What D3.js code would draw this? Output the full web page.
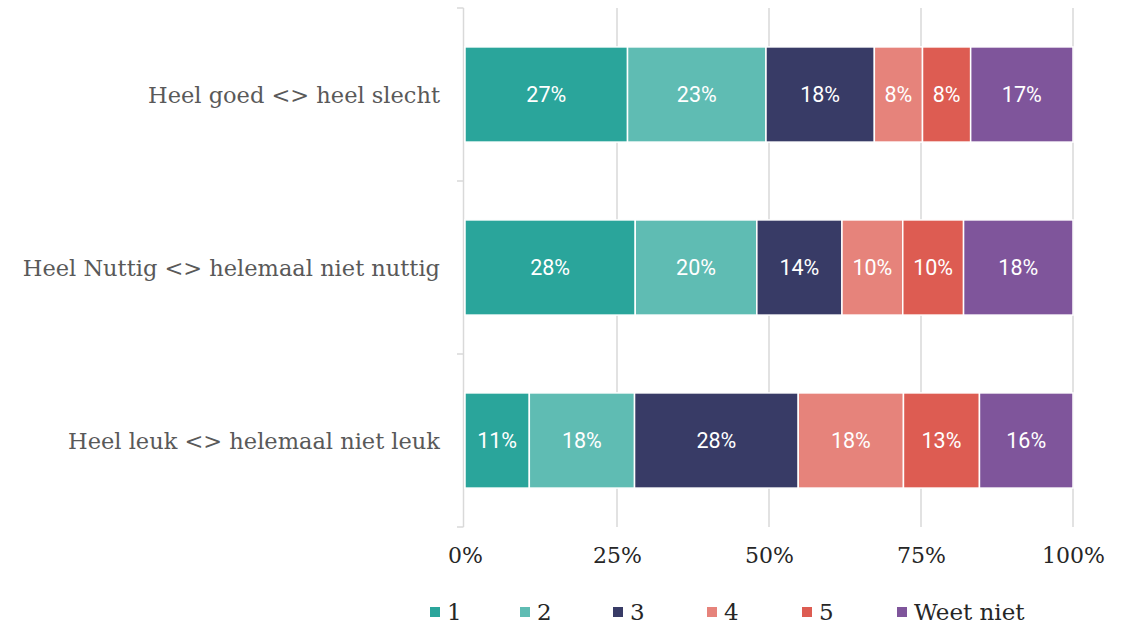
<!DOCTYPE html>
<html><head><meta charset="utf-8">
<script src="https://cdn.jsdelivr.net/npm/d3@7"></script>
<style>body{margin:0;background:#fff}svg{display:block}</style>
</head><body>
<svg id="c" width="1130" height="625"></svg>
<script>
const categories = ["Heel goed <> heel slecht", "Heel Nuttig <> helemaal niet nuttig", "Heel leuk <> helemaal niet leuk"];
const seriesNames = ["1", "2", "3", "4", "5", "Weet niet"];
const s1 = [27, 28, 11];
const s2 = [23, 20, 18];
const s3 = [18, 14, 28];
const s4 = [8, 10, 18];
const s5 = [8, 10, 13];
const sWeet = [17, 18, 16];
const colors = ["#2aa59b", "#5fbcb3", "#383b66", "#e6837b", "#dd5c52", "#7f559b"];
const tickValues = [0, 0.25, 0.5, 0.75, 1];

const seriesVals = [s1, s2, s3, s4, s5, sWeet];
const rows = categories.map((c, i) => {
  const r = {cat: c};
  seriesNames.forEach((s, j) => r[s] = seriesVals[j][i]);
  return r;
});

const svg = d3.select("#c");
const x = d3.scaleLinear().domain([0, 1]).range([465, 1073]);
const y = d3.scaleBand().domain(categories).range([8, 527]).padding(0);
const barH = y.bandwidth() * 0.55;

const stack = d3.stack().keys(seriesNames).offset(d3.stackOffsetExpand);
const stacked = stack(rows);

// gridlines
svg.append("g").selectAll("line").data(tickValues.slice(1)).join("line")
  .attr("x1", d => x(d)).attr("x2", d => x(d))
  .attr("y1", 8).attr("y2", 527)
  .attr("stroke", "#d9d9d9").attr("stroke-width", 1.5);

// y axis line and ticks
const yAxis = svg.append("g");
yAxis.append("line").attr("x1", 463.5).attr("x2", 463.5).attr("y1", 8).attr("y2", 527)
  .attr("stroke", "#d9d9d9").attr("stroke-width", 1.5);
const bounds = categories.map(c => y(c)).concat([y.range()[1]]);
yAxis.selectAll("line.t").data(bounds).join("line").attr("class", "t")
  .attr("x1", 457).attr("x2", 463.5).attr("y1", d => d).attr("y2", d => d)
  .attr("stroke", "#d9d9d9").attr("stroke-width", 1.5);

// category labels
svg.append("g").selectAll("text").data(categories).join("text")
  .attr("x", 440).attr("y", d => y(d) + y.bandwidth() / 2)
  .attr("text-anchor", "end").attr("dominant-baseline", "central")
  .attr("font-family", "DejaVu Serif").attr("font-size", 22.5)
  .attr("fill", "#595959").text(d => d);

// bars
const g = svg.append("g");
stacked.forEach((layer, j) => {
  const lg = g.append("g");
  lg.selectAll("rect").data(layer).join("rect")
    .attr("x", d => x(d[0])).attr("width", d => x(d[1]) - x(d[0]))
    .attr("y", d => y(d.data.cat) + (y.bandwidth() - barH) / 2).attr("height", barH)
    .attr("fill", colors[j]).attr("stroke", "#fff").attr("stroke-width", 1.5);
  lg.selectAll("text").data(layer).join("text")
    .attr("x", d => (x(d[0]) + x(d[1])) / 2)
    .attr("y", d => y(d.data.cat) + y.bandwidth() / 2)
    .attr("text-anchor", "middle").attr("dominant-baseline", "central")
    .attr("font-family", "Roboto").attr("font-size", 21.5).attr("fill", "#fff")
    .text(d => d.data[seriesNames[j]] + "%");
});

// x axis labels
const xAxis = d3.axisBottom(x).tickValues(tickValues).tickFormat(d3.format(".0%")).tickSize(0).tickPadding(0);
const xa = svg.append("g").attr("transform", "translate(0,547)").call(xAxis);
xa.select(".domain").remove();
xa.selectAll("text").attr("font-family", "DejaVu Serif").attr("font-size", 22).attr("fill", "#262626");

// legend
const legX = [430, 520, 613, 707, 802, 897];
const lg = svg.append("g");
seriesNames.forEach((s, j) => {
  lg.append("rect").attr("x", legX[j]).attr("y", 607).attr("width", 10).attr("height", 10).attr("fill", colors[j]);
  lg.append("text").attr("x", legX[j] + 17).attr("y", 612).attr("dominant-baseline", "central")
    .attr("font-family", "DejaVu Serif").attr("font-size", 23).attr("fill", "#262626").text(s);
});
</script>
</body></html>
